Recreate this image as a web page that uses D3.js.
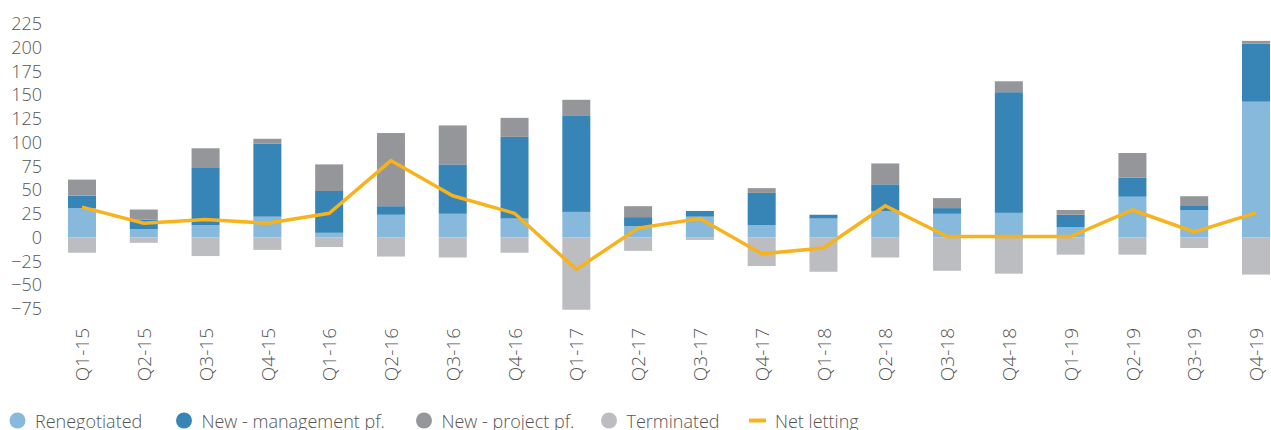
<!DOCTYPE html>
<html>
<head>
<meta charset="utf-8">
<script src="https://cdn.jsdelivr.net/npm/d3@7"></script>
<style>
  body { margin: 0; background: #fff; }
  svg text { font-family: "Open Sans", sans-serif; font-weight: 300; fill: #555; }
</style>
</head>
<body>
<div id="chart"></div>
<script>
const quarters = ["Q1-15","Q2-15","Q3-15","Q4-15","Q1-16","Q2-16","Q3-16","Q4-16","Q1-17","Q2-17",
                  "Q3-17","Q4-17","Q1-18","Q2-18","Q3-18","Q4-18","Q1-19","Q2-19","Q3-19","Q4-19"];
const renegotiated = [31, 9, 13, 22, 5, 24, 25, 20, 27, 12, 22, 13, 20, 28, 25, 26, 11, 43, 29, 143];
const newMgmt      = [13, 10, 61, 77, 44, 9, 52, 86, 101, 9.5, 6, 34, 4, 28, 6, 127, 13, 20, 5, 61];
const newProject   = [17, 10.5, 20, 5, 28, 77, 41, 20, 17, 11.5, 0, 5, 0, 22, 10.5, 11.5, 5, 26, 9.5, 3];
const terminated   = [-16, -5.5, -19.5, -13, -10, -20, -21, -16, -76, -14, -2.5, -30, -36, -21, -35, -38, -18, -18, -11, -39];
const netLetting   = [32, 15, 19, 15, 25.5, 81, 44, 25.5, -33.5, 10, 20, -17, -11, 33.5, 1, 1, 1, 29, 6, 26];
const yTicks = [225, 200, 175, 150, 125, 100, 75, 50, 25, 0, -25, -50, -75];

const w = 1271, h = 430;
const barW = 28;

const svg = d3.select("#chart").append("svg")
  .attr("width", w)
  .attr("height", h);

const x = d3.scalePoint()
  .domain(quarters)
  .range([82, 1256]);

const y = d3.scaleLinear()
  .domain([-75, 225])
  .range([308.8, 23.8]);

// stacked segments (positives stack up from 0, terminated goes down)
const series = [
  { name: "Renegotiated", color: "#86b9db", vals: renegotiated },
  { name: "New - management pf.", color: "#3784b6", vals: newMgmt },
  { name: "New - project pf.", color: "#959699", vals: newProject },
];

const bars = svg.append("g");
quarters.forEach((q, i) => {
  let base = 0;
  series.forEach(s => {
    const v = s.vals[i];
    bars.append("rect")
      .attr("x", x(q) - barW / 2)
      .attr("y", y(base + v))
      .attr("width", barW)
      .attr("height", y(base) - y(base + v))
      .attr("fill", s.color);
    base += v;
  });
  bars.append("rect")
    .attr("x", x(q) - barW / 2)
    .attr("y", y(0))
    .attr("width", barW)
    .attr("height", y(terminated[i]) - y(0))
    .attr("fill", "#bcbdc1");
});

const line = d3.line()
  .x((d, i) => x(quarters[i]))
  .y(d => y(d));

svg.append("path")
  .datum(netLetting)
  .attr("d", line)
  .attr("fill", "none")
  .attr("stroke", "#f8b21c")
  .attr("stroke-width", 3.5);

// y axis: labels only
const yAxis = d3.axisLeft(y).tickValues(yTicks).tickSize(0).tickPadding(0);
const gy = svg.append("g")
  .attr("transform", "translate(42,0)")
  .call(yAxis);
gy.select(".domain").remove();
gy.selectAll("text")
  .style("font-size", "18px")
  .attr("fill", "#555");

// x axis labels, rotated
const xAxis = d3.axisBottom(x).tickSize(0);
const gx = svg.append("g")
  .attr("transform", "translate(0,328)")
  .call(xAxis);
gx.select(".domain").remove();
gx.selectAll("text")
  .style("font-size", "19px")
  .attr("fill", "#555")
  .attr("text-anchor", "end")
  .attr("transform", "rotate(-90)")
  .attr("x", 0)
  .attr("y", 0)
  .attr("dy", "0.35em");

// legend
const legendItems = [
  { name: "Renegotiated", color: "#86b9db", cx: 17.5 },
  { name: "New - management pf.", color: "#3784b6", cx: 184 },
  { name: "New - project pf.", color: "#959699", cx: 424 },
  { name: "Terminated", color: "#bcbdc1", cx: 609 },
];
const lg = svg.append("g");
legendItems.forEach(d => {
  lg.append("circle")
    .attr("cx", d.cx)
    .attr("cy", 420.5)
    .attr("r", 8)
    .attr("fill", d.color);
  lg.append("text")
    .attr("x", d.cx + 17.5)
    .attr("y", 428)
    .style("font-size", "18px")
    .text(d.name);
});
lg.append("line")
  .attr("x1", 749).attr("x2", 766)
  .attr("y1", 420.5).attr("y2", 420.5)
  .attr("stroke", "#f8b21c")
  .attr("stroke-width", 4);
lg.append("text")
  .attr("x", 775)
  .attr("y", 428)
  .style("font-size", "18px")
  .text("Net letting");
</script>
</body>
</html>
